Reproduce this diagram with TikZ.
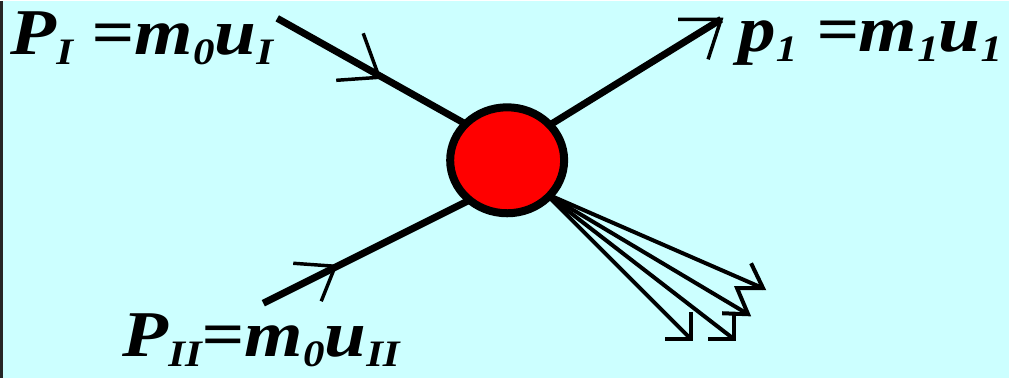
\documentclass[tikz,border=0pt]{standalone}
\usepackage{fontspec}
\setmainfont{Liberation Serif}
\newfontfamily\lblfont[FakeStretch=1.15]{Liberation Serif}
\usetikzlibrary{shapes.geometric}
\pgfdeclarelayer{back}
\pgfdeclarelayer{bg}
\pgfsetlayers{back,bg,main}
\definecolor{bgcyan}{RGB}{204,255,255}
\definecolor{ballred}{RGB}{255,0,0}
\newcommand{\lsub}[1]{\raisebox{-7.5pt}{\fontsize{28}{30}\selectfont #1}}
\tikzset{
  lbl/.style={inner sep=0pt, font=\lblfont\fontsize{49}{55}\selectfont\bfseries\itshape},
  thick line/.style={line width=5.25pt},
  fan line/.style={line width=3pt},
  arm/.style={line width=2.6pt},
  fan arm/.style={line width=3pt},
  ball/.style={ellipse, draw, fill=ballred, line width=6pt, inner sep=0pt, minimum width=85.5pt, minimum height=79.5pt}
}
\begin{document}
\begin{tikzpicture}[x=0.75pt,y=-0.75pt]
\begin{pgfonlayer}{back}
\fill[bgcyan] (0,0) rectangle (1009,377);
\draw[line width=2pt, black!85] (1,0) -- (1,377);
\end{pgfonlayer}
\useasboundingbox (0,0) rectangle (1009,377);
% ball
\node[ball] (c) at (507,159) {};
% coordinates
\coordinate (a1) at (277,17);
\coordinate (a1e) at (507,146);
\coordinate (t1) at (379,76);
\coordinate (b2) at (507,150);
\coordinate (t2) at (721,18);
\coordinate (a3) at (263,302);
\coordinate (a3e) at (507,180);
\coordinate (t3) at (335,265);
\coordinate (f0) at (545,192);
\coordinate (f1) at (763,287);
\coordinate (f2) at (748,313);
\coordinate (f3) at (734,338);
\coordinate (f4) at (691,338);
\begin{pgfonlayer}{bg}
\draw[thick line] (a1) -- (a1e);
\draw[thick line] (b2) -- (t2);
\draw[thick line] (a3) -- (a3e);
\draw[fan line] (f0) -- (f1);
\draw[fan line] (f0) -- (f2);
\draw[fan line] (f0) -- (f3);
\draw[fan line] (f0) -- (f4);
\end{pgfonlayer}
% arrow marks
\draw[arm] (336,79) -- (t1) -- (363,32);
\draw[arm] (678,18) -- (t2) -- (708,58);
\draw[arm] (293,262) -- (t3) -- (321,300);
\draw[fan arm, line join=miter] (751,262) -- (f1) -- (737,287) -- (f2) -- (722,312);
\draw[fan arm] (734,311) -- (f3) -- (708,338);
\draw[fan arm] (691,311) -- (f4) -- (665,338);
% labels
\node[lbl, anchor=base west] (l1) at (10,53) {P\lsub{I} =m\lsub{0}u\lsub{I}};
\node[lbl, anchor=base west] (l2) at (738,50) {p\lsub{1} =m\lsub{1}u\lsub{1}};
\node[lbl, anchor=base west] (l3) at (122,355) {P\lsub{II}=m\lsub{0}u\lsub{II}};
\end{tikzpicture}
\end{document}
